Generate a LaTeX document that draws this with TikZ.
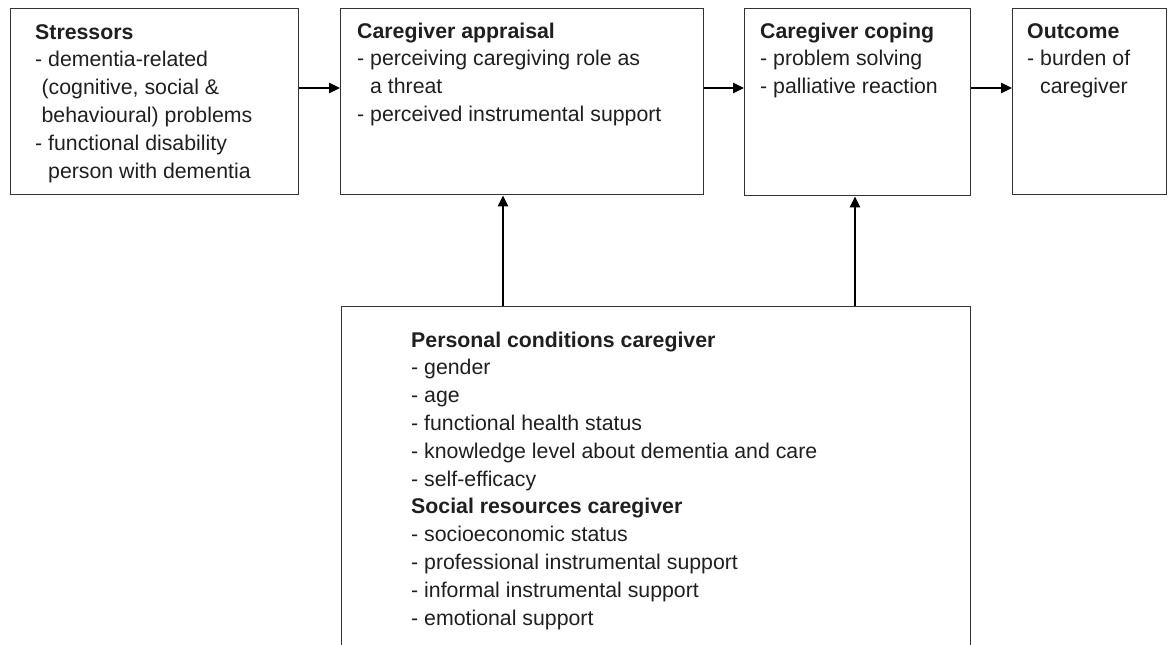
\documentclass[tikz,border=0pt]{standalone}
\usepackage{fontspec}
\setmainfont{Liberation Sans}
\usetikzlibrary{arrows.meta}
\begin{document}
\begin{tikzpicture}[x=1pt,y=-1pt,
  box/.style={draw=black!80, line width=1.4pt, inner sep=0pt, anchor=north west},
  txt/.style={font=\fontsize{21.3}{27.8}\selectfont, text=black!88, align=left, inner sep=0pt, anchor=north west},
  arr/.style={draw=black, line width=2.6pt, -{Triangle[length=11pt,width=10pt]}}]
\useasboundingbox (0,0) rectangle (1168,645);
\clip (0,0) rectangle (1168,645);
% boxes
\node[box, minimum width=288pt, minimum height=186pt] (s) at (10,8) {};
\node[box, minimum width=363pt, minimum height=186pt] (a) at (340,8) {};
\node[box, minimum width=226pt, minimum height=187pt] (c) at (744,8) {};
\node[box, minimum width=154pt, minimum height=186pt] (o) at (1012,8) {};
\node[box, minimum width=629pt, minimum height=360pt] (p) at (341,306) {};
% texts
\node[txt] (stxt) at (35,19.5) {\strut\textbf{Stressors}\\
- dementia-related\\
\hspace{0.3em}(cognitive, social \&\\
\hspace{0.3em}behavioural) problems\\
- functional disability\\
\phantom{- }person with dementia};
\node[txt] (atxt) at (357,18.5) {\strut\textbf{Caregiver appraisal}\\
- perceiving caregiving role as\\
\phantom{- }a threat\\
- perceived instrumental support};
\node[txt] (ctxt) at (760,18.5) {\strut\textbf{Caregiver coping}\\
- problem solving\\
- palliative reaction};
\node[txt] (otxt) at (1027,18.5) {\strut\textbf{Outcome}\\
- burden of\\
\phantom{- }caregiver};
\node[txt] (ptxt) at (411,327.5) {\strut\textbf{Personal conditions caregiver}\\
- gender\\
- age\\
- functional health status\\
- knowledge level about dementia and care\\
- self-efficacy\\
\textbf{Social resources caregiver}\\
- socioeconomic status\\
- professional instrumental support\\
- informal instrumental support\\
- emotional support};
% connectors
\coordinate (row) at (0,88);
\coordinate (v1) at (503,0);
\coordinate (v2) at (855,0);
\draw[arr] (s.east |- row) -- (a.west |- row);
\draw[arr] (a.east |- row) -- (c.west |- row);
\draw[arr] (c.east |- row) -- (o.west |- row);
\draw[arr] (p.north -| v1) -- (a.south -| v1);
\draw[arr] (p.north -| v2) -- (c.south -| v2);
\end{tikzpicture}
\end{document}
